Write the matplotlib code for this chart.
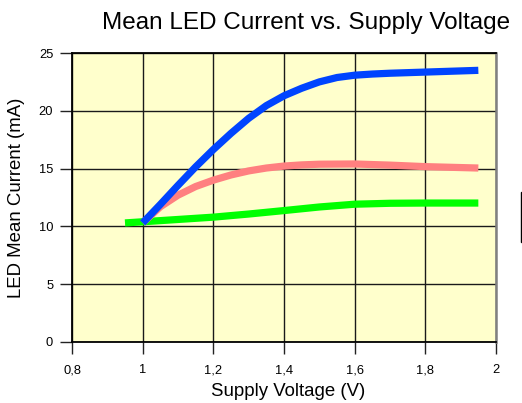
import matplotlib
matplotlib.use("Agg")
import matplotlib.pyplot as plt
from matplotlib.patches import Rectangle
from matplotlib.ticker import FixedLocator, FixedFormatter

plt.rcParams['font.family'] = ['Liberation Sans', 'DejaVu Sans']

# Data
blue_x = [1.0, 1.05, 1.1, 1.15, 1.2, 1.25, 1.3, 1.35, 1.4, 1.45, 1.5, 1.55, 1.6, 1.65, 1.7, 1.8, 1.95]
blue_y = [10.3, 11.9, 13.55, 15.15, 16.65, 18.05, 19.35, 20.45, 21.3, 21.95, 22.5, 22.88, 23.08, 23.18, 23.25, 23.35, 23.5]
pink_x = [1.0, 1.05, 1.1, 1.15, 1.2, 1.25, 1.3, 1.35, 1.4, 1.45, 1.5, 1.6, 1.7, 1.8, 1.95]
pink_y = [10.3, 11.7, 12.7, 13.45, 14.0, 14.45, 14.8, 15.05, 15.22, 15.32, 15.38, 15.4, 15.3, 15.17, 15.05]
green_x = [0.95, 1.0, 1.1, 1.2, 1.3, 1.4, 1.5, 1.6, 1.7, 1.8, 1.95]
green_y = [10.3, 10.4, 10.6, 10.8, 11.07, 11.37, 11.68, 11.92, 12.0, 12.02, 12.02]

x_ticks = [0.8, 1.0, 1.2, 1.4, 1.6, 1.8, 2.0]
x_tick_labels = ["0,8", "1", "1,2", "1,4", "1,6", "1,8", "2"]
y_ticks = [0, 5, 10, 15, 20, 25]
y_tick_labels = ["0", "5", "10", "15", "20", "25"]

title = "Mean LED Current vs. Supply Voltage"
xlabel = "Supply Voltage (V)"
ylabel = "LED Mean Current (mA)"

W, H = 522, 403
fig = plt.figure(figsize=(W / 100, H / 100), dpi=100)
ax = fig.add_axes([72 / W, 1 - 342 / H, (496 - 72) / W, (342 - 53) / H])
ax.set_facecolor('#FFFFCC')

lw = 5.2
ax.plot(green_x, green_y, color='#00FF00', lw=lw, solid_capstyle='butt',
        solid_joinstyle='round', zorder=3)
ax.plot(pink_x, pink_y, color='#FF8080', lw=lw, solid_capstyle='butt',
        solid_joinstyle='round', zorder=4)
ax.plot(blue_x, blue_y, color='#0044FF', lw=lw, solid_capstyle='butt',
        solid_joinstyle='round', zorder=5)

ax.set_xlim(0.8, 2.0)
ax.set_ylim(0, 25)
ax.xaxis.set_major_locator(FixedLocator(x_ticks))
ax.xaxis.set_major_formatter(FixedFormatter(x_tick_labels))
ax.yaxis.set_major_locator(FixedLocator(y_ticks))
ax.yaxis.set_major_formatter(FixedFormatter(y_tick_labels))

ax.grid(True, color='#1a1a1a', lw=1.0, zorder=1)
ax.set_axisbelow(True)
ax.tick_params(axis='both', direction='out', length=8.5, width=1.0,
               color='#222222', labelsize=9.3)
ax.tick_params(axis='y', pad=5)
ax.tick_params(axis='x', pad=7.5)

for s in ['left', 'bottom', 'top']:
    ax.spines[s].set_color('black')
    ax.spines[s].set_linewidth(1.3)
ax.spines['right'].set_color('#808080')
ax.spines['right'].set_linewidth(1.8)

fig.text(306 / W, 1 - 23 / H, title, ha='center', va='center', fontsize=17.5)
fig.text(288 / W, 1 - 391 / H, xlabel, ha='center', va='center', fontsize=13.4)
fig.text(17 / W, 1 - 198 / H, ylabel, ha='center', va='center', fontsize=13.4,
         rotation=90)

# partially visible legend box at right edge
fig.patches.append(Rectangle((520.5 / W, 1 - 242 / H), 10 / W, 50 / H,
                             transform=fig.transFigure, facecolor='white',
                             edgecolor='black', lw=1.0, clip_on=False))

fig.savefig('out.png', dpi=100)
